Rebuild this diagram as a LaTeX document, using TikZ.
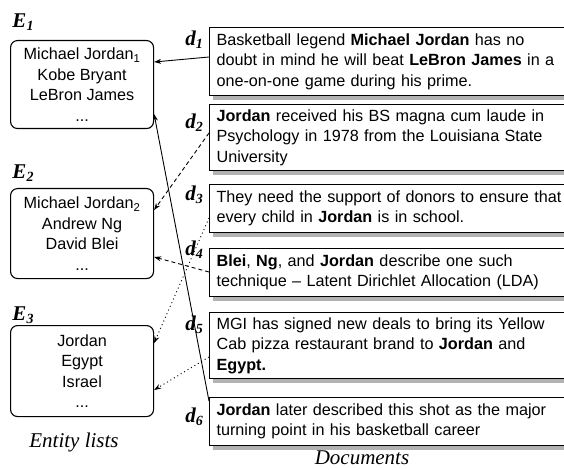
\documentclass[tikz,border=0pt]{standalone}
\usepackage{fontspec}
\setmainfont{Liberation Sans}
\newfontfamily\capfont{Liberation Serif}
\usetikzlibrary{arrows.meta,shadows}

\newcommand{\boxfont}{\fontsize{16.2}{20.5}\selectfont}
\newcommand{\lab}[2]{{\capfont\fontsize{21}{24}\selectfont\bfseries\itshape #1\raisebox{-0.35ex}{\fontsize{14}{16}\selectfont #2}}}

\begin{document}
\begin{tikzpicture}[x=1pt,y=-1pt,
    entbox/.style={draw,line width=1.1pt,rounded corners=7pt,minimum width=143pt,
        anchor=north west,align=center,font=\boxfont,inner sep=0pt},
    docbox/.style={draw,line width=1.1pt,fill=white,anchor=north west,align=left,
        font=\boxfont,text width=360pt,inner xsep=7pt,inner ysep=0pt,
        drop shadow={shadow xshift=3pt,shadow yshift=-4pt,fill=black!30,opacity=1}},
    lbl/.style={inner sep=0pt},
    captext/.style={font=\capfont\fontsize{21}{24}\selectfont\itshape},
    link/.style={line width=0.9pt,-{Stealth[length=7pt,width=5pt]}},
    dashlink/.style={link,dash pattern=on 4pt off 3pt},
    dotlink/.style={link,dash pattern=on 1pt off 3pt}]
    \useasboundingbox (0,0) rectangle (564,470);
    \clip (0,0) rectangle (564,470);

    % entity lists
    \node[lbl] (le1) at (23,22) {\lab{E}{1}};
    \node[entbox,minimum height=88pt] (e1) at (10,40) {Michael Jordan\textsubscript{1}\\Kobe Bryant\\LeBron James\\...};
    \node[lbl] (le2) at (23,173) {\lab{E}{2}};
    \node[entbox,minimum height=90pt] (e2) at (10,188) {Michael Jordan\textsubscript{2}\\Andrew Ng\\David Blei\\...};
    \node[lbl] (le3) at (23,315) {\lab{E}{3}};
    \node[entbox,minimum height=91pt] (e3) at (10,325) {Jordan\\Egypt\\Israel\\...};
    \node[captext] (cent) at (74,442) {Entity lists};

    % documents
    \node[docbox,minimum height=68pt] (d1) at (209,27) {Basketball legend \textbf{Michael Jordan} has no\\doubt in mind he will beat \textbf{LeBron James} in a\\one-on-one game during his prime.};
    \node[docbox,minimum height=66pt] (d2) at (209,104) {\textbf{Jordan} received his BS magna cum laude in\\Psychology in 1978 from the Louisiana State\\University};
    \node[docbox,minimum height=48pt] (d3) at (209,184) {They need the support of donors to ensure that\\every child in \textbf{Jordan} is in school.};
    \node[docbox,minimum height=48pt] (d4) at (209,248) {\textbf{Blei}, \textbf{Ng}, and \textbf{Jordan} describe one such\\technique -- Latent Dirichlet Allocation (LDA)};
    \node[docbox,minimum height=66pt] (d5) at (209,312) {MGI has signed new deals to bring its Yellow\\Cab pizza restaurant brand to \textbf{Jordan} and\\\textbf{Egypt.}};
    \node[docbox,minimum height=48pt] (d6) at (209,397) {\textbf{Jordan} later described this shot as the major\\turning point in his basketball career};
    \node[captext] (cdoc) at (362,458) {Documents};

    \node[lbl,anchor=east] (ld1) at (203,40) {\lab{d}{1}};
    \node[lbl,anchor=east] (ld2) at (203,123) {\lab{d}{2}};
    \node[lbl,anchor=east] (ld3) at (203,195) {\lab{d}{3}};
    \node[lbl,anchor=east] (ld4) at (203,250) {\lab{d}{4}};
    \node[lbl,anchor=east] (ld5) at (203,325) {\lab{d}{5}};
    \node[lbl,anchor=east] (ld6) at (203,417) {\lab{d}{6}};

    % links
    \draw[link] ([yshift=-30pt]d1.north west) -- ([yshift=-22pt]e1.north east);
    \draw[link] ([yshift=-4pt]d6.north west) -- ([yshift=-74pt]e1.north east);
    \draw[dashlink] ([yshift=-29pt]d2.north west) -- ([yshift=-22pt]e2.north east);
    \draw[dashlink] ([yshift=-24pt]d4.north west) -- ([yshift=-69pt]e2.north east);
    \draw[dotlink] ([yshift=-34pt]d3.north west) -- ([yshift=-18pt]e3.north east);
    \draw[dotlink] ([yshift=-45pt]d5.north west) -- ([yshift=-65pt]e3.north east);
\end{tikzpicture}
\end{document}
